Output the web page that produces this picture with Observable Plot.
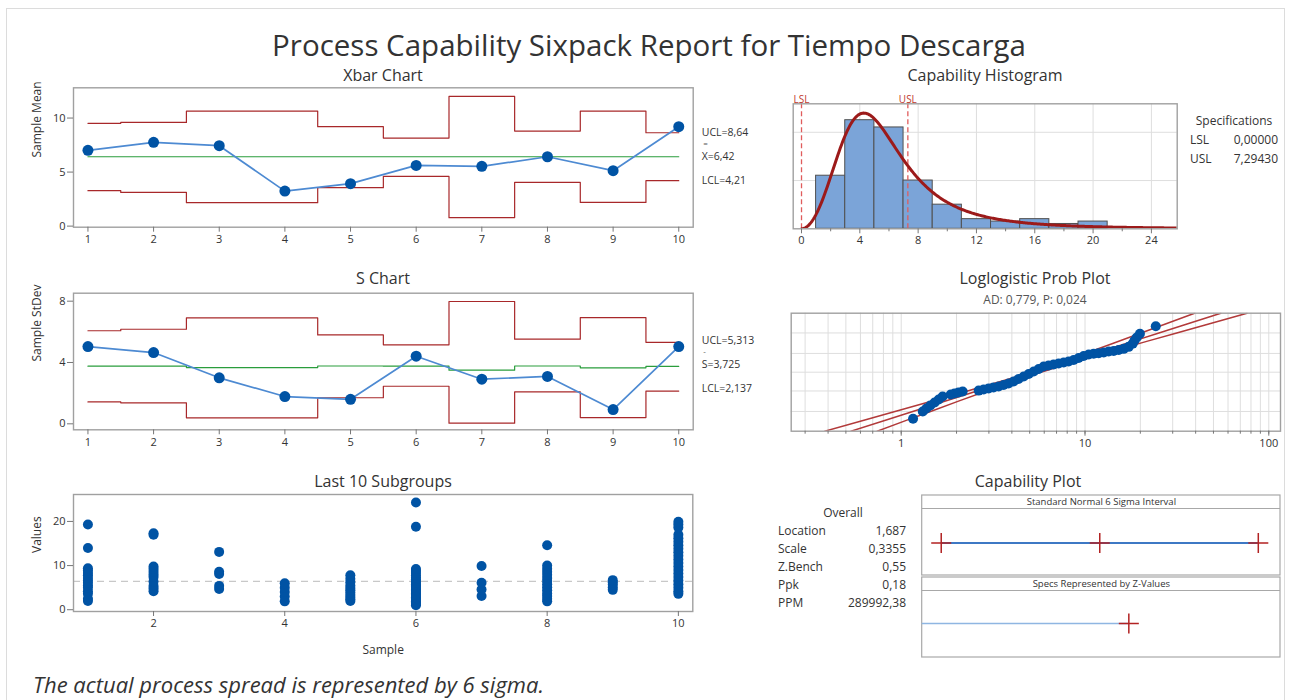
<!DOCTYPE html>
<html><head><meta charset="utf-8">
<script src="https://cdn.jsdelivr.net/npm/d3@7"></script>
<script src="https://cdn.jsdelivr.net/npm/@observablehq/plot@0.6"></script>
<style>
body{margin:0;background:#fff;font-family:"Open Sans",sans-serif;color:#333}
#wrap{position:relative;width:1291px;height:700px;overflow:hidden;background:#fff}
#border{position:absolute;left:6px;top:8px;width:1277px;height:720px;border:1px solid #dcdcdc}
svg{position:absolute}
</style></head><body><div id="wrap"><div id="border"></div></div>
<script>
// ---------- DATA ----------
const subgroups = [1,2,3,4,5,6,7,8,9,10];
const xbarMeans = [7.01,7.75,7.44,3.24,3.93,5.62,5.53,6.42,5.13,9.20];
const xbarUCL   = [9.51,9.60,10.65,10.65,9.20,8.15,12.00,8.80,10.65,8.64];
const xbarCL    = [6.42,6.42,6.42,6.42,6.42,6.42,6.42,6.42,6.42,6.42];
const xbarLCL   = [3.28,3.12,2.17,2.17,3.56,4.60,0.78,4.05,2.19,4.21];
const xbarLabels = ["UCL=8,64","X=6,42","LCL=4,21"];
const xbarLabelVals = [8.64,6.42,4.21];

const sValues = [5.04,4.65,3.00,1.78,1.60,4.41,2.91,3.09,0.93,5.04];
const sUCL    = [6.07,6.17,6.91,6.91,5.80,5.15,7.98,5.52,6.93,5.313];
const sCL     = [3.76,3.76,3.67,3.67,3.77,3.76,3.50,3.77,3.65,3.75];
const sLCL    = [1.43,1.37,0.39,0.39,1.70,2.45,0.04,2.09,0.41,2.137];
const sLabels = ["UCL=5,313","S=3,725","LCL=2,137"];
const sLabelVals = [5.313,3.725,2.137];

const sg1 = [2.0,2.5,3.6,4.2,5.0,5.5,6.1,6.6,7.2,7.8,8.3,8.9,9.4,14.0,19.3];
const sg2 = [4.2,4.8,5.4,6.4,7.4,8.0,8.6,9.2,9.8,17.0,17.3];
const sg3 = [4.7,5.4,8.1,8.6,13.1];
const sg4 = [1.9,3.0,4.0,5.0,6.0];
const sg5 = [2.0,2.4,2.9,3.4,3.9,4.4,4.9,5.5,6.2,7.0,7.8];
const sg6 = [1.0,1.3,1.6,1.9,2.2,2.5,2.8,3.1,3.4,3.7,4.0,4.3,4.6,4.9,5.2,5.5,5.8,6.1,6.5,6.9,7.3,7.8,8.3,8.8,9.2,18.8,24.3];
const sg7 = [3.1,4.6,6.1,9.9];
const sg8 = [1.9,2.5,3.1,3.7,4.4,5.1,5.8,6.5,7.2,7.9,8.6,9.3,10.0,14.6];
const sg9 = [4.5,5.1,5.7,6.2,6.7];
const sg10 = [3.6,4.2,5.0,5.8,6.6,7.4,8.2,9.0,9.8,10.6,11.4,12.2,13.0,13.8,14.6,15.4,16.2,17.0,18.6,19.3,19.9];
const subgroupValues = [sg1,sg2,sg3,sg4,sg5,sg6,sg7,sg8,sg9,sg10];
const overallMean = 6.42;

const binStart = [1,3,5,7,9,11,13,15,17,19];
const binEnd   = [3,5,7,9,11,13,15,17,19,21];
const binCounts = [22,45,42,20,10,4,3,4,2,3];
const specNames = ["LSL","USL"];
const specValues = [0, 7.2943];
const specText = ["0,00000","7,29430"];
const fitLocation = 1.687, fitScale = 0.3355;

const ppValue   = [1.16,1.31,1.37,1.44,1.52,1.60,1.68,1.86,1.95,2.05,2.16,2.64,2.81,2.99,3.18,3.39,3.61,3.84,4.09,4.35,4.64,4.94,5.26,5.60,5.96,6.34,6.75,7.19,7.66,8.15,8.68,9.24,9.84,10.48,11.15,11.88,12.65,13.46,14.33,15.26,16.25,17.30,18.19,18.6,19.12,19.9,24.27];
const ppPercent = [0.43,1.0,1.4,2.0,2.8,3.9,5.5,6.9,7.7,8.5,9.5,10.4,11.6,12.9,14.3,15.8,18.3,21.1,25.3,31.1,37.7,44.5,52.0,59.3,66.1,68.7,71.1,73.4,75.7,77.7,80.6,84.0,87.0,88.8,89.7,90.3,90.9,91.8,92.3,93.1,93.9,95.1,96.6,97.6,98.3,98.9,99.54];
const bandPercent = [0.1,1,10,50,90,99,99.9];
const fitLine   = [0.533,1.156,2.585,5.403,11.29,25.25,54.8];
const bandLower = [0.384,0.925,2.295,5.088,10.02,20.20,39.46];
const bandUpper = [0.740,1.444,2.912,5.737,12.72,31.56,76.1];
const ppGridX = [0.3,0.4,0.5,0.6,0.7,0.8,0.9,1,2,3,4,5,6,7,8,9,10,20,30,40,50,60,70,80,90,100];
const ppGridPct = [1,10,50,90,99];

const capRows = ["Standard Normal 6 Sigma Interval","Specs Represented by Z-Values"];
const sigmaMarks = [-3,0,3];
const zBench = 0.55;
const statLabels = ["Location","Scale","Z.Bench","Ppk","PPM"];
const statValues = ["1,687","0,3355","0,55","0,18","289992,38"];

// ---------- HELPERS ----------
const wrap = document.getElementById("wrap");
const red = "#a8282a", green = "#2a9d3c", blueLine = "#4d8ad2", blueDot = "#0053a4";
const baseStyle = {fontFamily:'"Open Sans", sans-serif', fontSize:"11px", color:"#333", background:"transparent", overflow:"visible"};
function place(svg, left, top){ svg.style.left = left+"px"; svg.style.top = top+"px"; wrap.appendChild(svg); }
function label(text, x, y, o={}){
  const d = document.createElement("div"); d.textContent = text;
  Object.assign(d.style,{position:"absolute",left:x+"px",top:y+"px",whiteSpace:"nowrap",
    fontSize:(o.size||12)+"px",color:o.color||"#333",fontStyle:o.italic?"italic":"normal",lineHeight:"1.15",
    transform:`translate(${o.anchor==="middle"?"-50%":o.anchor==="end"?"-100%":"0"},-50%)`});
  wrap.appendChild(d); return d;
}
function steps(vals){
  const pts=[]; const n=vals.length;
  vals.forEach((v,i)=>{ const x=subgroups[i];
    pts.push({x: i===0? x : x-0.5, y:v}); pts.push({x: i===n-1? x : x+0.5, y:v}); });
  return pts;
}
function controlChart(o){
  const pts = subgroups.map((s,i)=>({x:s,y:o.values[i]}));
  const labs = o.labels.map((t,i)=>({t, y:o.labelVals[i]}));
  return Plot.plot({
    width:770, height:200, marginLeft:73, marginRight:77.3, marginTop:o.mt, marginBottom:o.mb,
    style: baseStyle,
    x:{domain:[0.78,10.22], axis:null}, y:{domain:o.domain, axis:null},
    marks:[
      Plot.line(steps(o.ucl),{x:"x",y:"y",stroke:red,strokeWidth:1.2}),
      Plot.line(steps(o.lcl),{x:"x",y:"y",stroke:red,strokeWidth:1.2}),
      Plot.line(steps(o.cl),{x:"x",y:"y",stroke:green,strokeWidth:1.2}),
      Plot.line(pts,{x:"x",y:"y",stroke:blueLine,strokeWidth:1.7}),
      Plot.dot(pts,{x:"x",y:"y",r:5.5,fill:blueDot}),
      Plot.frame({stroke:"#a0a0a0",strokeWidth:1.4}),
      Plot.axisX({ticks:subgroups,tickSize:5,tickPadding:3,tickFormat:d=>String(d),label:null,stroke:"#777"}),
      Plot.axisY({ticks:o.yTicks,tickSize:6,tickPadding:2,label:null,stroke:"#777"}),
      Plot.text(labs,{x:d=>10,y:"y",text:"t",dx:23,dy:o.labelDy,textAnchor:"start",fontSize:10.5,fill:"#333"}),
      Plot.text([o.barChar],{x:d=>10,y:d=>o.labelVals[1],text:d=>d,dx:24.5,dy:o.labelDy-13,textAnchor:"start",fontSize:8,fill:"#555"}),
      Plot.text([o.ylabel],{frameAnchor:"left",text:d=>d,rotate:-90,dx:-36,fontSize:12,fill:"#333"})
    ]
  });
}

// ---------- TITLES ----------
label("Process Capability Sixpack Report for Tiempo Descarga", 649, 45, {size:29.5, anchor:"middle", color:"#333"});
label("The actual process spread is represented by 6 sigma.", 33, 685, {size:22, italic:true, color:"#333"});
label("Xbar Chart", 383, 75, {size:16, anchor:"middle"});
label("S Chart", 383, 278, {size:16, anchor:"middle"});
label("Last 10 Subgroups", 383, 481, {size:16, anchor:"middle"});
label("Capability Histogram", 985, 75, {size:16, anchor:"middle"});
label("Loglogistic Prob Plot", 1035, 278, {size:16, anchor:"middle"});
label("AD: 0,779, P: 0,024", 1035, 300, {size:12, anchor:"middle", color:"#555"});
label("Capability Plot", 1028, 481, {size:16, anchor:"middle"});

// ---------- XBAR ----------
place(controlChart({values:xbarMeans, ucl:xbarUCL, cl:xbarCL, lcl:xbarLCL, domain:[-0.1,12.8], yTicks:[0,5,10],
  labels:xbarLabels, labelVals:xbarLabelVals, labelDy:0, barChar:"=", ylabel:"Sample Mean", mt:27.3, mb:33.3}), 0, 60);
// ---------- S ----------
place(controlChart({values:sValues, ucl:sUCL, cl:sCL, lcl:sLCL, domain:[-0.39,8.52], yTicks:[0,4,8],
  labels:sLabels, labelVals:sLabelVals, labelDy:-2, barChar:"-", ylabel:"Sample StDev", mt:27.7, mb:35.7}), 0, 265);

// ---------- LAST 10 SUBGROUPS ----------
const obs = subgroupValues.flatMap((vals,i)=>vals.map(v=>({x:subgroups[i], y:v})));
place(Plot.plot({
  width:770, height:200, marginLeft:73, marginRight:77.7, marginTop:29, marginBottom:54,
  style: baseStyle,
  x:{domain:[0.78,10.22], axis:null}, y:{domain:[-0.4,26.1], axis:null},
  marks:[
    Plot.ruleY([overallMean],{stroke:"#c8c8c8",strokeWidth:1.3,strokeDasharray:"7,5"}),
    Plot.dot(obs,{x:"x",y:"y",r:5,fill:blueDot}),
    Plot.frame({stroke:"#a0a0a0",strokeWidth:1.4}),
    Plot.axisX({ticks:[2,4,6,8,10],tickSize:5,tickPadding:3,tickFormat:d=>String(d),label:null,stroke:"#777"}),
    Plot.axisY({ticks:[0,10,20],tickSize:6,tickPadding:2,label:null,stroke:"#777"}),
    Plot.text(["Values"],{frameAnchor:"left",text:d=>d,rotate:-90,dx:-36,fontSize:12,fill:"#333"}),
    Plot.text(["Sample"],{frameAnchor:"bottom",text:d=>d,dy:39,lineAnchor:"middle",fontSize:12,fill:"#333"})
  ]
}), 0, 465);

// ---------- HISTOGRAM ----------
const N = d3.sum(binCounts);
const bins = binStart.map((s,i)=>({x1:s,x2:binEnd[i],count:binCounts[i]}));
const curve = d3.range(0.02, 25.8, 0.08).map(x=>{
  const z=(Math.log(x)-fitLocation)/fitScale; const e=Math.exp(z);
  return {x, y: N*2*e/((1+e)*(1+e))/(fitScale*x)};
});
place(Plot.plot({
  width:420, height:200, marginLeft:22.7, marginRight:13.3, marginTop:43.3, marginBottom:31.7,
  style: baseStyle,
  x:{domain:[-0.57,25.77], axis:null}, y:{domain:[0,51.8], axis:null},
  marks:[
    Plot.gridX({ticks:[4,8,12,16,20,24],stroke:"#dedede",strokeOpacity:1}),
    Plot.gridY({ticks:[20,40],stroke:"#dedede",strokeOpacity:1}),
    Plot.rect(bins,{x1:"x1",x2:"x2",y1:d=>0,y2:"count",fill:"#7ba4d8",stroke:"#505050",strokeWidth:1}),
    Plot.ruleX(specValues,{x:d=>d,stroke:"#e05c5c",strokeWidth:1.3,strokeDasharray:"5,3"}),
    Plot.line(curve,{x:"x",y:"y",stroke:"#9c1a1a",strokeWidth:3,clip:true}),
    Plot.frame({stroke:"#a0a0a0",strokeWidth:1.4}),
    Plot.axisX({ticks:[0,4,8,12,16,20,24],tickSize:5,tickPadding:2,tickFormat:d=>String(d),label:null,stroke:"#777"}),
    Plot.axisX({ticks:[2,6,10,14,18,22],tickSize:3,tickFormat:()=>"",label:null,stroke:"#777"}),
    Plot.text(specNames,{x:(d,i)=>specValues[i],text:d=>d,frameAnchor:"top",dy:-8,fontSize:10,fill:"#c0392b"})
  ]
}), 770, 60);
label("Specifications", 1234, 121, {size:12, anchor:"middle"});
specNames.forEach((n,i)=>{ label(n, 1190, 140+i*18.5, {size:12}); label(specText[i], 1278, 140+i*18.5, {size:12, anchor:"end"}); });

// ---------- PROB PLOT ----------
const logit = p => Math.log(p/(1-p));
const ppPts = ppValue.map((v,i)=>({v, p:ppPercent[i]}));
const bandLines = [bandLower, fitLine, bandUpper].flatMap((arr,k)=>arr.map((v,i)=>({k, v, p:bandPercent[i]})));
place(Plot.plot({
  width:521, height:200, marginLeft:20.7, marginRight:11, marginTop:47.7, marginBottom:34.3,
  style: baseStyle,
  x:{type:"log", domain:[0.252,115.8], axis:null}, y:{domain:[logit(0.001), logit(0.999)], axis:null},
  marks:[
    Plot.gridX({ticks:ppGridX,stroke:"#dedede",strokeOpacity:1}),
    Plot.gridY({ticks:ppGridPct.map(p=>logit(p/100)),stroke:"#dedede",strokeOpacity:1}),
    Plot.line(bandLines,{x:"v",y:d=>logit(d.p/100),z:"k",stroke:"#b23a3a",strokeWidth:1.5,curve:"catmull-rom",clip:true}),
    Plot.dot(ppPts,{x:"v",y:d=>logit(d.p/100),r:5,fill:blueDot}),
    Plot.frame({stroke:"#a0a0a0",strokeWidth:1.4}),
    Plot.axisX({ticks:ppGridX,tickSize:3,tickFormat:()=>"",label:null,stroke:"#777"}),
    Plot.axisX({ticks:[1,10,100],tickSize:5,tickPadding:3,tickFormat:d=>String(d),label:null,stroke:"#777"})
  ]
}), 770, 265);

// ---------- CAPABILITY PLOT ----------
const capX = [-3.36, 3.42];
place(Plot.plot({
  width:521, height:200, marginLeft:151.7, marginRight:11, marginTop:30, marginBottom:6.7,
  style: baseStyle,
  x:{domain:capX, axis:null}, y:{type:"band", domain:capRows, paddingInner:0.02, paddingOuter:0, axis:null},
  marks:[
    Plot.barX(capRows,{y:d=>d, x1:capX[0], x2:capX[1], fill:"white", stroke:"#a8a8a8", strokeWidth:1.2}),
    Plot.ruleY(capRows,{y:d=>d, dy:-27, stroke:"#a8a8a8", strokeWidth:1.2}),
    Plot.text(capRows,{y:d=>d, text:d=>d, frameAnchor:"middle", dy:-33.5, fontSize:9.5, fill:"#333"}),
    Plot.ruleY([capRows[0]],{y:d=>d, x1:sigmaMarks[0], x2:sigmaMarks[2], dy:7.5, stroke:"#3d78c4", strokeWidth:2}),
    Plot.dot(sigmaMarks,{x:d=>d, y:()=>capRows[0], dy:7.5, symbol:"plus", r:6.5, stroke:"#b22222", strokeWidth:1.5}),
    Plot.ruleY([capRows[1]],{y:d=>d, x1:capX[0], x2:zBench, dy:6, stroke:"#8fb6e2", strokeWidth:1.6}),
    Plot.dot([zBench],{x:d=>d, y:()=>capRows[1], dy:6, symbol:"plus", r:6.5, stroke:"#b22222", strokeWidth:1.5})
  ]
}), 770, 465);
label("Overall", 843, 513, {size:12, anchor:"middle"});
statLabels.forEach((n,i)=>{ label(n, 778, 531+i*18.1, {size:12}); label(statValues[i], 906, 531+i*18.1, {size:12, anchor:"end"}); });
</script></body></html>
